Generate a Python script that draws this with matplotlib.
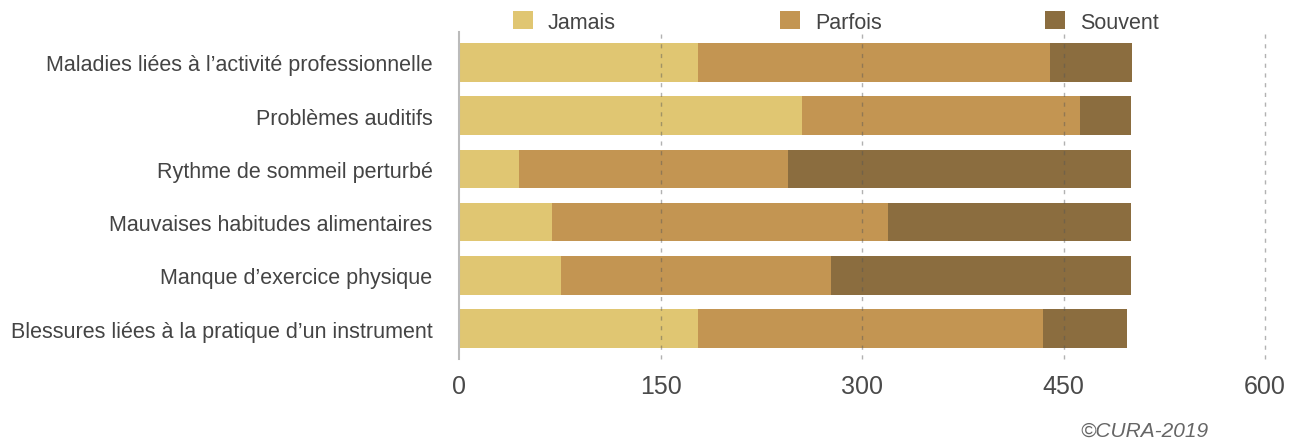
import matplotlib
matplotlib.use("Agg")
import matplotlib.pyplot as plt
import numpy as np

categories = [
    "Maladies liées à l\u2019activité professionnelle",
    "Problèmes auditifs",
    "Rythme de sommeil perturbé",
    "Mauvaises habitudes alimentaires",
    "Manque d\u2019exercice physique",
    "Blessures liées à la pratique d\u2019un instrument",
]
series_names = ["Jamais", "Parfois", "Souvent"]
jamais = [178, 255, 45, 69, 76, 178]
parfois = [262, 207, 200, 250, 201, 257]
souvent = [61, 38, 255, 181, 223, 62]
colors = ["#E0C672", "#C39552", "#8B6D3F"]
xticks = [0, 150, 300, 450, 600]

plt.rcParams["font.family"] = ["Liberation Sans", "DejaVu Sans"]

W, H = 1292, 439
fig = plt.figure(figsize=(W / 100, H / 100), dpi=100)
ax = fig.add_axes([459 / W, 1 - 360 / H, 806 / W, 327 / H])

y = np.arange(len(categories))
left = np.zeros(len(categories))
for name, vals, c in zip(series_names, [jamais, parfois, souvent], colors):
    ax.barh(y, vals, left=left, height=0.72, color=c, label=name, zorder=2,
            edgecolor="none")
    left += np.array(vals)

ax.set_ylim(5.57, -0.57)
ax.set_xlim(0, 600)
ax.set_yticks(y)
ax.set_yticklabels(categories, fontsize=15.5, color="#444444")
ax.set_xticks(xticks)
ax.set_xticklabels([str(t) for t in xticks], fontsize=18, color="#4a4a4a")
ax.tick_params(axis="y", length=0, pad=19)
ax.tick_params(axis="x", length=0, pad=11)

for t in xticks[1:]:
    ax.axvline(t, color="#555555", lw=1, ls=(0, (3, 4)), alpha=0.45,
               zorder=3, clip_on=False)

for s in ["top", "right", "bottom"]:
    ax.spines[s].set_visible(False)
ax.spines["left"].set_color("#bbbbbb")
ax.spines["left"].set_linewidth(1.5)
ax.spines["left"].set_zorder(4)

leg = fig.legend(loc="center left", bbox_to_anchor=(513 / W, 1 - 23 / H),
                 ncol=3, frameon=False, fontsize=15.5, handlelength=0.93,
                 handleheight=0.9, handletextpad=0.7, columnspacing=7.6,
                 borderaxespad=0, borderpad=0)
for txt in leg.get_texts():
    txt.set_color("#444444")

fig.text(1208 / W, 1 - 431 / H, "©CURA-2019", ha="right", va="center",
         fontsize=15, style="italic", color="#666666")

fig.savefig("out.png", dpi=100)
